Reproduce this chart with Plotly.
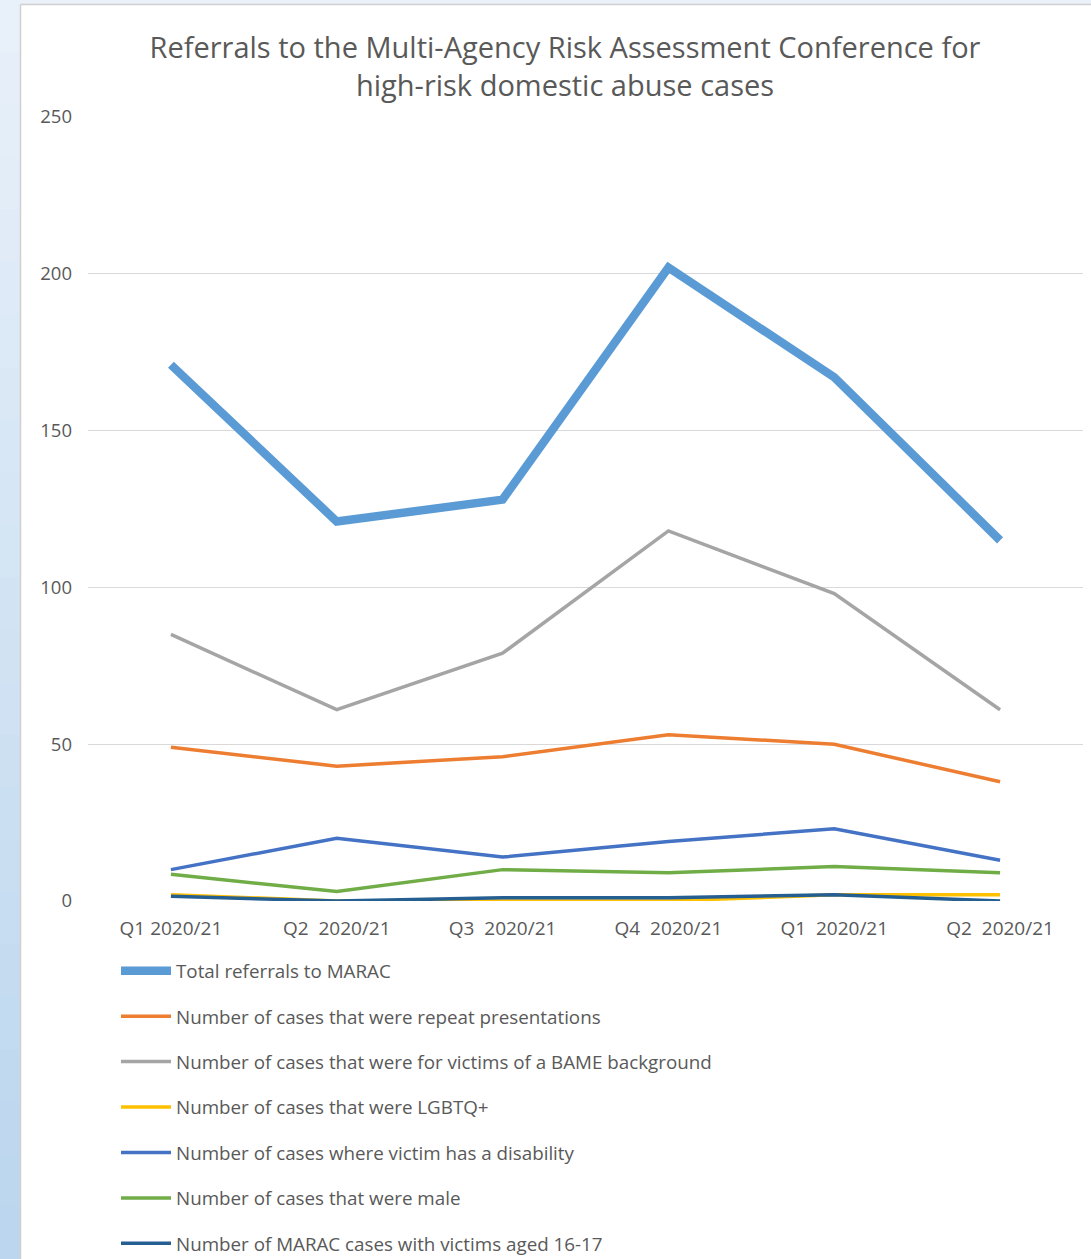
import plotly.graph_objects as go

categories = ["Q1 2020/21", "Q2\u00a0\u00a02020/21", "Q3\u00a0\u00a02020/21", "Q4\u00a0\u00a02020/21", "Q1\u00a0\u00a02020/21", "Q2\u00a0\u00a02020/21"]
x_pos = [0, 1, 2, 3, 4, 5]

total_referrals = [171, 121, 128, 202, 167, 115]
repeat_presentations = [49, 43, 46, 53, 50, 38]
bame_background = [85, 61, 79, 118, 98, 61]
lgbtq = [2, 0, 0, 0, 2, 2]
disability = [10, 20, 14, 19, 23, 13]
male = [8.5, 3, 10, 9, 11, 9]
aged_16_17 = [1.5, 0, 1, 1, 2, 0]

series_names = [
    "Total referrals to MARAC",
    "Number of cases that were repeat presentations",
    "Number of cases that were for victims of a BAME background",
    "Number of cases that were LGBTQ+",
    "Number of cases where victim has a disability",
    "Number of cases that were male",
    "Number of MARAC cases with victims aged 16-17",
]
series_values = [total_referrals, repeat_presentations, bame_background, lgbtq, disability, male, aged_16_17]
series_colors = ["#5B9BD5", "#ED7D31", "#A5A5A5", "#FFC000", "#4472C4", "#70AD47", "#255E91"]
series_widths = [8.5, 3.5, 3.5, 3.5, 3.5, 3.5, 3.5]

W, H = 1091, 1259
L, R, T, B = 88, 8, 117, 358
PW = W - L - R
PH = H - T - B

FONT = "Open Sans"
TXT = "#595959"

fig = go.Figure()
for i, (name, vals, col, w) in enumerate(zip(series_names, series_values, series_colors, series_widths)):
    fig.add_trace(go.Scatter(
        x=x_pos, y=vals, mode="lines", name=name,
        line=dict(color=col, width=w, shape="linear"),
        legendgroup=f"g{i}",
    ))


def px_x(px):
    return (px - L) / PW


def px_y(py):
    return (H - B - py) / PH


shapes = []
# left gradient strip
n = 24
top_c = (232, 240, 249)
bot_c = (187, 214, 238)
for k in range(n):
    f = k / (n - 1)
    c = tuple(int(round(top_c[j] + (bot_c[j] - top_c[j]) * f)) for j in range(3))
    y0 = k * H / n
    y1 = (k + 1) * H / n + 1
    shapes.append(dict(type="rect", xref="paper", yref="paper",
                       x0=px_x(0), x1=px_x(20), y0=px_y(y1), y1=px_y(y0),
                       fillcolor="rgb(%d,%d,%d)" % c, line=dict(width=0), layer="below"))
# top strip
shapes.append(dict(type="rect", xref="paper", yref="paper",
                   x0=px_x(20), x1=px_x(W), y0=px_y(4), y1=px_y(0),
                   fillcolor="#EAF1F9", line=dict(width=0), layer="below"))
# border lines
shapes.append(dict(type="line", xref="paper", yref="paper",
                   x0=px_x(20.5), x1=px_x(20.5), y0=px_y(H), y1=px_y(4.5),
                   line=dict(color="#D0D0D0", width=1.5), layer="below"))
shapes.append(dict(type="line", xref="paper", yref="paper",
                   x0=px_x(20.5), x1=px_x(W), y0=px_y(4.5), y1=px_y(4.5),
                   line=dict(color="#D0D0D0", width=1.5), layer="below"))

fig.update_layout(
    width=W, height=H,
    margin=dict(l=L, r=R, t=T, b=B, autoexpand=False),
    paper_bgcolor="white", plot_bgcolor="white",
    font=dict(family=FONT, color=TXT, size=18),
    title=dict(
        text="Referrals to the Multi-Agency Risk Assessment Conference for<br>high-risk domestic abuse cases",
        x=565 / W, xanchor="center", y=1 - 58 / H, yanchor="middle",
        font=dict(family=FONT, size=29, color=TXT),
    ),
    xaxis=dict(
        tickmode="array", tickvals=x_pos, ticktext=categories,
        range=[-0.5, 5.5], showgrid=False, zeroline=False, showline=False,
        ticks="", tickfont=dict(size=19, color=TXT), ticklabelstandoff=14,
    ),
    yaxis=dict(
        range=[0, 250], dtick=50, tick0=0, showgrid=True, gridcolor="#D9D9D9",
        gridwidth=1, zeroline=False, showline=False, ticks="",
        tickfont=dict(size=18.5, color=TXT), ticklabelstandoff=15,
    ),
    showlegend=True,
    legend=dict(
        orientation="v", x=px_x(116), xanchor="left", y=px_y(952), yanchor="top",
        font=dict(size=18.8, color=TXT, family=FONT), tracegroupgap=18,
        bgcolor="rgba(0,0,0,0)", itemwidth=50,
    ),
    shapes=shapes,
)

fig.write_html("out.html")
